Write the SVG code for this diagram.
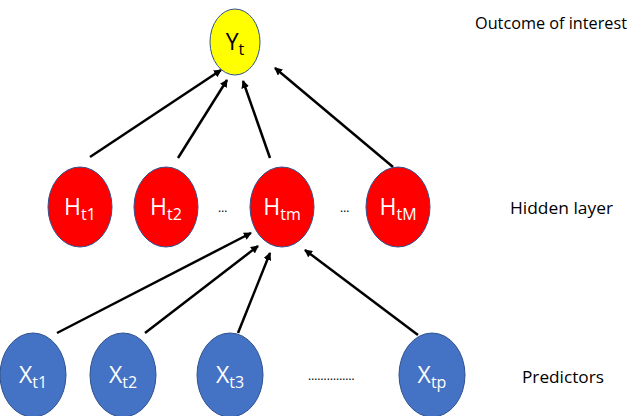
<svg xmlns="http://www.w3.org/2000/svg" width="640" height="416" viewBox="0 0 640 416">
<style>
.r{fill:#ff0000;stroke:#2f528f;stroke-width:1}
.b{fill:#4472c4;stroke:#2f528f;stroke-width:1}
.y{fill:#ffff00;stroke:#2f528f;stroke-width:1}
.n{font-family:"Open Sans","DejaVu Sans",sans-serif;font-size:23px;fill:#fff;text-anchor:middle}
.s{font-size:16px}
.l{font-family:"Open Sans","DejaVu Sans",sans-serif;font-size:17px;fill:#000}
.d{font-family:"Open Sans",sans-serif;font-size:12px;fill:#000}
line{stroke:#000;stroke-width:2.5;marker-end:url(#a)}
</style>
<defs><marker id="a" markerWidth="8" markerHeight="8" refX="7" refY="4" orient="auto" markerUnits="userSpaceOnUse"><path d="M0,0L8,4L0,8z" fill="#000"/></marker></defs>
<g id="connectors">
<line x1="90" y1="157" x2="221" y2="70"/>
<line x1="178" y1="158" x2="227" y2="80"/>
<line x1="270" y1="158" x2="243" y2="81"/>
<line x1="393" y1="167" x2="275" y2="68"/>
<line x1="57" y1="333" x2="251" y2="233"/>
<line x1="145" y1="333" x2="258" y2="246"/>
<line x1="238" y1="333" x2="270" y2="253"/>
<line x1="418" y1="335" x2="305" y2="250"/>
</g>
<g id="Y"><ellipse class="y" cx="235" cy="42" rx="25" ry="33"/><text class="n" x="235" y="50" style="fill:#000">Y<tspan class="s" dy="5">t</tspan></text></g>
<g id="H1"><ellipse class="r" cx="80" cy="207" rx="32" ry="40"/><text class="n" x="80" y="215">H<tspan class="s" dy="5">t1</tspan></text></g>
<g id="H2"><ellipse class="r" cx="166" cy="207" rx="32" ry="40"/><text class="n" x="166" y="215">H<tspan class="s" dy="5">t2</tspan></text></g>
<g id="Hm"><ellipse class="r" cx="282" cy="207" rx="32" ry="40"/><text class="n" x="282" y="215">H<tspan class="s" dy="5">tm</tspan></text></g>
<g id="HM"><ellipse class="r" cx="398" cy="207" rx="32" ry="40"/><text class="n" x="398" y="215">H<tspan class="s" dy="5">tM</tspan></text></g>
<g id="X1"><ellipse class="b" cx="33" cy="375" rx="33" ry="42"/><text class="n" x="33" y="383">X<tspan class="s" dy="5">t1</tspan></text></g>
<g id="X2"><ellipse class="b" cx="123" cy="375" rx="33" ry="42"/><text class="n" x="123" y="383">X<tspan class="s" dy="5">t2</tspan></text></g>
<g id="X3"><ellipse class="b" cx="230" cy="375" rx="33" ry="42"/><text class="n" x="230" y="383">X<tspan class="s" dy="5">t3</tspan></text></g>
<g id="Xp"><ellipse class="b" cx="432" cy="375" rx="33" ry="42"/><text class="n" x="432" y="383">X<tspan class="s" dy="5">tp</tspan></text></g>
<text class="d" x="218" y="212">…</text>
<text class="d" x="340" y="212">…</text>
<text class="d" x="308" y="380">……………</text>
<text class="l" x="475" y="29" textLength="152" lengthAdjust="spacingAndGlyphs">Outcome of interest</text>
<text class="l" x="510" y="214" textLength="103" lengthAdjust="spacingAndGlyphs">Hidden layer</text>
<text class="l" x="522" y="383" textLength="82" lengthAdjust="spacingAndGlyphs">Predictors</text>
</svg>
